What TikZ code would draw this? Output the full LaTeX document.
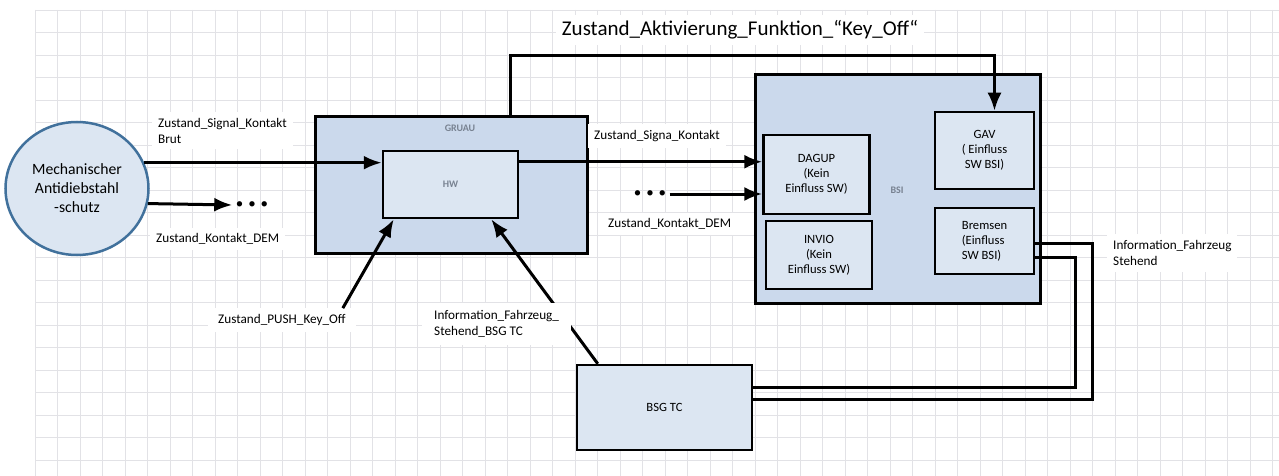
\documentclass[tikz,border=0pt]{standalone}
\usepackage{fontspec}
\setmainfont{Carlito}
\usepackage{tikz}
\usetikzlibrary{shapes.geometric}
\usetikzlibrary{arrows.meta}

\definecolor{boxfill}{RGB}{220,230,242}
\definecolor{outerfill}{RGB}{203,217,236}
\definecolor{circleline}{RGB}{65,113,156}
\definecolor{gridgray}{RGB}{226,226,230}
\definecolor{titlegray}{RGB}{120,130,145}

\begin{document}
\begin{tikzpicture}[x=1pt, y=-1pt,
    outerbox/.style={draw=black, line width=3pt, fill=outerfill, minimum width=#1},
    innerbox/.style={draw=black, line width=2.5pt, fill=boxfill, align=center, font=\fontsize{12.6}{15}\selectfont},
    lbl/.style={fill=white, align=left, inner sep=6pt, font=\fontsize{13.2}{16}\selectfont},
    gridline/.style={draw=gridgray, line width=0.8pt},
    conn/.style={draw=black, line width=3pt},
    arr/.style={conn, -{Latex[length=18pt, width=14pt]}}]
      \useasboundingbox (0,0) rectangle (1279,476);
      \fill[white] (0,0) rectangle (1279,476);
      % background grid
      \foreach \gx in {35,57.5,...,1279} \draw[gridline] (\gx,10) -- (\gx,476);
      \foreach \gy in {10,32.5,...,476} \draw[gridline] (35,\gy) -- (1279,\gy);

      \node (mech) [ellipse, draw=circleline, line width=2.5pt, fill=boxfill, minimum width=143, minimum height=133,
        align=center, font=\fontsize{15.7}{19}\selectfont] at (77,188.5) {Mechanischer\\Antidiebstahl\\-schutz};

      \node (gruau) [outerbox=272, minimum height=136] at (451,185) {};
      \node (gruautitle) [text=titlegray, font=\fontsize{10}{12}\selectfont\bfseries] at (460,128) {GRUAU};
      \node (hw) [innerbox, minimum width=135, minimum height=67, text=titlegray, font=\fontsize{10}{12}\selectfont\bfseries] at (450.5,184.5) {HW};

      \node (bsi) [outerbox=285, minimum height=228] at (898,189) {};
      \node (bsititle) [text=titlegray, font=\fontsize{10}{12}\selectfont\bfseries] at (897,190) {BSI};
      \node (dagup) [innerbox, minimum width=106, minimum height=79] at (816.5,174.5) {DAGUP\\(Kein\\Einfluss SW)};
      \node (invio) [innerbox, minimum width=106, minimum height=68] at (819,255) {INVIO\\(Kein\\Einfluss SW)};
      \node (gav) [innerbox, minimum width=99, minimum height=77] at (984.5,150.5) {GAV\\( Einfluss\\SW BSI)};
      \node (bremsen) [innerbox, align=left, minimum width=99, minimum height=66] at (984.5,241) {Bremsen\\(Einfluss\\SW BSI)};

      \node (bsgtc) [innerbox, minimum width=175, minimum height=85] at (664.5,407.5) {BSG TC};

      \node (dotsA) [font=\fontsize{15}{15}\selectfont] at (252,205) {\textbullet\,\,\textbullet\,\,\textbullet};
      \node (dotsB) [font=\fontsize{15}{15}\selectfont] at (650,194) {\textbullet\,\,\textbullet\,\,\textbullet};
      \coordinate (in1) at ([yshift=-12pt]hw.north west);

      \draw[arr] (mech.21) -- (mech.21 -| in1);
      \draw[arr] (mech.-12) -- (dotsA.west);
      \draw[arr] (hw.east |- in1) -- (dagup.west |- in1);
      \draw[arr] (dotsB.east) -- (dagup.west |- dotsB);
      \draw[arr] ([xshift=59pt]gruau.north) -- ++(0,-60) -| ([xshift=10pt]gav.north);
      \draw[conn] ([yshift=-2pt]bremsen.east) -| (1092,399) -- (bsgtc.east |- 0,399);
      \draw[conn] ([yshift=-16pt]bremsen.east) -| (1075,387) -- (bsgtc.east |- 0,387);
      \draw[arr] ([xshift=22pt]bsgtc.north west) -- ([xshift=-28pt]hw.south east);

      % labels
      \node (sigA) [lbl, anchor=north west] at (152,112) {Zustand\_Signal\_Kontakt\\Brut};
      \node (demA) [lbl, anchor=west] at (150,239) {Zustand\_Kontakt\_DEM};
      \node (sigB) [lbl, anchor=west] at (588,136) {Zustand\_Signa\_Kontakt};
      \node (demB) [lbl, anchor=west] at (602,224) {Zustand\_Kontakt\_DEM};
      \node (info) [lbl, anchor=west] at (1107,253) {Information\_Fahrzeug\\Stehend};
      \node (pushlbl) [lbl, anchor=west, inner xsep=10pt] at (208,320) {Zustand\_PUSH\_Key\_Off};
      \node (bsglbl) [lbl, anchor=west, inner xsep=12pt, inner ysep=8pt] at (422,324) {Information\_Fahrzeug\_\\Stehend\_BSG TC};
      \draw[arr] ([xshift=-13pt]pushlbl.north east) -- ([xshift=12pt]hw.south west);
      \node (title) [fill=white, inner sep=6pt, font=\fontsize{21}{24}\selectfont] at (740,30) {Zustand\_Aktivierung\_Funktion\_“Key\_Off“};
    \end{tikzpicture}
\end{document}
